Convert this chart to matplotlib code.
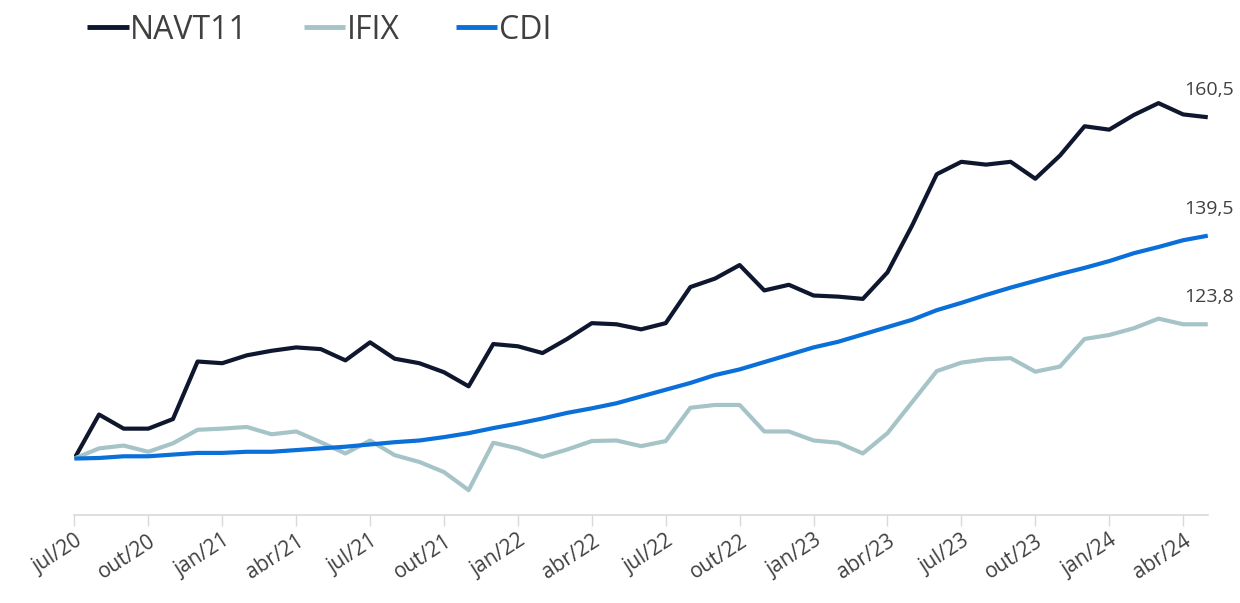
import matplotlib.pyplot as plt

plt.rcParams['font.family'] = ['Open Sans', 'DejaVu Sans']

months = ['jan', 'fev', 'mar', 'abr', 'mai', 'jun', 'jul', 'ago', 'set', 'out', 'nov', 'dez']
# monthly points from jul/20 to mai/24
labels = []
for k in range(47):
    m = (6 + k) % 12
    y = 20 + (6 + k) // 12
    labels.append(f'{months[m]}/{y}')

navt11 = [100.0, 107.8, 105.3, 105.3, 107.0, 117.2, 116.9, 118.3, 119.1, 119.7,
          119.4, 117.4, 120.6, 117.7, 116.9, 115.3, 112.8, 120.3, 119.9, 118.7,
          121.2, 124.0, 123.8, 122.9, 124.0, 130.4, 131.9, 134.3, 129.8, 130.8,
          128.9, 128.7, 128.3, 133.0, 141.3, 150.4, 152.6, 152.1, 152.6, 149.6,
          153.7, 158.9, 158.3, 160.9, 163.0, 161.0, 160.5]
ifix = [100.0, 101.8, 102.3, 101.2, 102.7, 105.1, 105.3, 105.6, 104.3, 104.8,
        102.9, 100.9, 103.2, 100.6, 99.4, 97.6, 94.4, 102.8, 101.8, 100.3,
        101.6, 103.1, 103.2, 102.2, 103.1, 109.0, 109.5, 109.5, 104.8, 104.8,
        103.2, 102.8, 100.9, 104.5, 110.0, 115.5, 117.0, 117.6, 117.8, 115.4,
        116.3, 121.2, 121.9, 123.1, 124.8, 123.8, 123.8]
cdi = [100.0, 100.1, 100.4, 100.4, 100.7, 101.0, 101.0, 101.2, 101.2, 101.5,
       101.8, 102.1, 102.5, 102.9, 103.2, 103.8, 104.5, 105.4, 106.2, 107.1,
       108.1, 108.9, 109.8, 111.0, 112.2, 113.4, 114.8, 115.8, 117.1, 118.4,
       119.7, 120.7, 122.0, 123.3, 124.6, 126.3, 127.6, 129.0, 130.3, 131.5,
       132.7, 133.8, 135.0, 136.4, 137.5, 138.7, 139.5]

series = [('NAVT11', navt11, '#0f172e'),
          ('IFIX', ifix, '#a6c4c8'),
          ('CDI', cdi, '#0a6fd8')]

fig = plt.figure(figsize=(12.4, 6.03), dpi=100)
ax = fig.add_axes([0.06, 0.146, 0.914, 0.755])

x = list(range(len(labels)))
for name, vals, col in series:
    ax.plot(x, vals, color=col, lw=3, label=name, solid_capstyle='butt')
    ax.annotate(f'{vals[-1]:.1f}'.replace('.', ','), (x[-1], vals[-1]),
                xytext=(1, 13), textcoords='offset points', ha='center', va='bottom',
                fontsize=14, color='#404040')

ax.set_xlim(0, len(labels) - 1)
ax.set_ylim(90, 170.7)
ax.set_xticks(x[::3])
ax.set_xticklabels(labels[::3], rotation=33, ha='right', rotation_mode='anchor',
                   fontsize=15, color='#404040')
ax.tick_params(axis='x', length=8, width=1, color='#d9d9d9', pad=3)
ax.set_yticks([])
for s in ['top', 'right', 'left']:
    ax.spines[s].set_visible(False)
ax.spines['bottom'].set_color('#d9d9d9')
ax.spines['bottom'].set_linewidth(1.2)

leg = fig.legend(loc='upper left', bbox_to_anchor=(0.047, 1.025), ncol=3, frameon=False,
                 fontsize=23, handlelength=1.3, handletextpad=0.05, columnspacing=1.75,
                 labelcolor='#404040')
for h in leg.get_lines():
    h.set_linewidth(3.5)

fig.savefig('out.png', dpi=100)
